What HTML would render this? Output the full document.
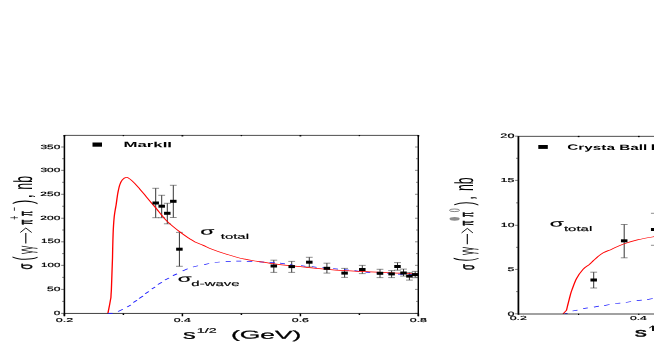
<!DOCTYPE html>
<html><head><meta charset="utf-8"><title>plot</title>
<style>
html,body{margin:0;padding:0;background:#fff;}
body{width:654px;height:354px;overflow:hidden;font-family:"Liberation Sans", sans-serif;}
svg{display:block;font-family:"Liberation Sans", sans-serif;}
text{text-rendering:geometricPrecision;}
</style></head><body>
<svg width="654" height="354" viewBox="0 0 654 354">
<defs><filter id="tb" x="0" y="0" width="654" height="354" filterUnits="userSpaceOnUse"><feGaussianBlur stdDeviation="0.3"/></filter></defs>
<rect x="0" y="0" width="654" height="354" fill="#fff"/>
<line x1="155.70" y1="188.30" x2="155.70" y2="217.70" stroke="#2a2a2a" stroke-width="0.95" stroke-linecap="butt"/>
<line x1="152.30" y1="188.30" x2="159.10" y2="188.30" stroke="#333" stroke-width="0.55" stroke-linecap="butt"/>
<line x1="152.30" y1="217.70" x2="159.10" y2="217.70" stroke="#333" stroke-width="0.55" stroke-linecap="butt"/>
<line x1="161.70" y1="195.30" x2="161.70" y2="217.70" stroke="#2a2a2a" stroke-width="0.95" stroke-linecap="butt"/>
<line x1="158.30" y1="195.30" x2="165.10" y2="195.30" stroke="#333" stroke-width="0.55" stroke-linecap="butt"/>
<line x1="158.30" y1="217.70" x2="165.10" y2="217.70" stroke="#333" stroke-width="0.55" stroke-linecap="butt"/>
<line x1="167.30" y1="203.30" x2="167.30" y2="223.80" stroke="#2a2a2a" stroke-width="0.95" stroke-linecap="butt"/>
<line x1="163.90" y1="203.30" x2="170.70" y2="203.30" stroke="#333" stroke-width="0.55" stroke-linecap="butt"/>
<line x1="163.90" y1="223.80" x2="170.70" y2="223.80" stroke="#333" stroke-width="0.55" stroke-linecap="butt"/>
<line x1="173.30" y1="185.30" x2="173.30" y2="217.50" stroke="#2a2a2a" stroke-width="0.95" stroke-linecap="butt"/>
<line x1="169.90" y1="185.30" x2="176.70" y2="185.30" stroke="#333" stroke-width="0.55" stroke-linecap="butt"/>
<line x1="169.90" y1="217.50" x2="176.70" y2="217.50" stroke="#333" stroke-width="0.55" stroke-linecap="butt"/>
<line x1="179.40" y1="232.40" x2="179.40" y2="266.30" stroke="#2a2a2a" stroke-width="0.95" stroke-linecap="butt"/>
<line x1="176.00" y1="232.40" x2="182.80" y2="232.40" stroke="#333" stroke-width="0.55" stroke-linecap="butt"/>
<line x1="176.00" y1="266.30" x2="182.80" y2="266.30" stroke="#333" stroke-width="0.55" stroke-linecap="butt"/>
<line x1="273.80" y1="260.20" x2="273.80" y2="272.40" stroke="#2a2a2a" stroke-width="0.95" stroke-linecap="butt"/>
<line x1="270.40" y1="260.20" x2="277.20" y2="260.20" stroke="#333" stroke-width="0.55" stroke-linecap="butt"/>
<line x1="270.40" y1="272.40" x2="277.20" y2="272.40" stroke="#333" stroke-width="0.55" stroke-linecap="butt"/>
<line x1="291.70" y1="261.40" x2="291.70" y2="272.40" stroke="#2a2a2a" stroke-width="0.95" stroke-linecap="butt"/>
<line x1="288.30" y1="261.40" x2="295.10" y2="261.40" stroke="#333" stroke-width="0.55" stroke-linecap="butt"/>
<line x1="288.30" y1="272.40" x2="295.10" y2="272.40" stroke="#333" stroke-width="0.55" stroke-linecap="butt"/>
<line x1="309.30" y1="257.30" x2="309.30" y2="267.00" stroke="#2a2a2a" stroke-width="0.95" stroke-linecap="butt"/>
<line x1="305.90" y1="257.30" x2="312.70" y2="257.30" stroke="#333" stroke-width="0.55" stroke-linecap="butt"/>
<line x1="305.90" y1="267.00" x2="312.70" y2="267.00" stroke="#333" stroke-width="0.55" stroke-linecap="butt"/>
<line x1="326.90" y1="263.20" x2="326.90" y2="273.10" stroke="#2a2a2a" stroke-width="0.95" stroke-linecap="butt"/>
<line x1="323.50" y1="263.20" x2="330.30" y2="263.20" stroke="#333" stroke-width="0.55" stroke-linecap="butt"/>
<line x1="323.50" y1="273.10" x2="330.30" y2="273.10" stroke="#333" stroke-width="0.55" stroke-linecap="butt"/>
<line x1="344.60" y1="268.40" x2="344.60" y2="277.40" stroke="#2a2a2a" stroke-width="0.95" stroke-linecap="butt"/>
<line x1="341.20" y1="268.40" x2="348.00" y2="268.40" stroke="#333" stroke-width="0.55" stroke-linecap="butt"/>
<line x1="341.20" y1="277.40" x2="348.00" y2="277.40" stroke="#333" stroke-width="0.55" stroke-linecap="butt"/>
<line x1="362.30" y1="265.40" x2="362.30" y2="273.60" stroke="#2a2a2a" stroke-width="0.95" stroke-linecap="butt"/>
<line x1="358.90" y1="265.40" x2="365.70" y2="265.40" stroke="#333" stroke-width="0.55" stroke-linecap="butt"/>
<line x1="358.90" y1="273.60" x2="365.70" y2="273.60" stroke="#333" stroke-width="0.55" stroke-linecap="butt"/>
<line x1="380.00" y1="269.30" x2="380.00" y2="277.60" stroke="#2a2a2a" stroke-width="0.95" stroke-linecap="butt"/>
<line x1="376.60" y1="269.30" x2="383.40" y2="269.30" stroke="#333" stroke-width="0.55" stroke-linecap="butt"/>
<line x1="376.60" y1="277.60" x2="383.40" y2="277.60" stroke="#333" stroke-width="0.55" stroke-linecap="butt"/>
<line x1="391.60" y1="270.60" x2="391.60" y2="277.60" stroke="#2a2a2a" stroke-width="0.95" stroke-linecap="butt"/>
<line x1="388.20" y1="270.60" x2="395.00" y2="270.60" stroke="#333" stroke-width="0.55" stroke-linecap="butt"/>
<line x1="388.20" y1="277.60" x2="395.00" y2="277.60" stroke="#333" stroke-width="0.55" stroke-linecap="butt"/>
<line x1="397.50" y1="262.60" x2="397.50" y2="270.20" stroke="#2a2a2a" stroke-width="0.95" stroke-linecap="butt"/>
<line x1="394.10" y1="262.60" x2="400.90" y2="262.60" stroke="#333" stroke-width="0.55" stroke-linecap="butt"/>
<line x1="394.10" y1="270.20" x2="400.90" y2="270.20" stroke="#333" stroke-width="0.55" stroke-linecap="butt"/>
<line x1="403.50" y1="269.10" x2="403.50" y2="276.10" stroke="#2a2a2a" stroke-width="0.95" stroke-linecap="butt"/>
<line x1="400.10" y1="269.10" x2="406.90" y2="269.10" stroke="#333" stroke-width="0.55" stroke-linecap="butt"/>
<line x1="400.10" y1="276.10" x2="406.90" y2="276.10" stroke="#333" stroke-width="0.55" stroke-linecap="butt"/>
<line x1="409.40" y1="272.60" x2="409.40" y2="280.10" stroke="#2a2a2a" stroke-width="0.95" stroke-linecap="butt"/>
<line x1="406.00" y1="272.60" x2="412.80" y2="272.60" stroke="#333" stroke-width="0.55" stroke-linecap="butt"/>
<line x1="406.00" y1="280.10" x2="412.80" y2="280.10" stroke="#333" stroke-width="0.55" stroke-linecap="butt"/>
<line x1="415.20" y1="271.40" x2="415.20" y2="277.70" stroke="#2a2a2a" stroke-width="0.95" stroke-linecap="butt"/>
<line x1="411.80" y1="271.40" x2="418.60" y2="271.40" stroke="#333" stroke-width="0.55" stroke-linecap="butt"/>
<line x1="411.80" y1="277.70" x2="418.60" y2="277.70" stroke="#333" stroke-width="0.55" stroke-linecap="butt"/>
<path transform="scale(1.85,1)" d="M63.84,311.50 L66.38,309.30 M68.76,306.90 L70.70,305.00 M72.05,302.50 L74.05,300.20 M75.19,298.50 L77.30,296.10 M78.49,293.70 L80.43,291.40 M82.05,288.90 L83.84,287.00 M85.35,284.50 L87.51,282.30 M89.19,280.10 L91.35,278.10 M93.46,275.60 L95.68,273.90 M98.70,271.10 L101.41,268.70 M104.32,267.00 L107.03,265.70 M110.38,264.60 L113.08,263.50 M116.05,262.50 L118.81,262.00 M122.00,261.60 L124.76,261.40 M127.73,261.10 L130.43,261.10 M133.41,261.30 L136.38,261.40 M140.16,261.80 L142.86,262.20 M145.68,262.40 L148.65,262.90 M151.35,263.20 L154.05,263.80 M156.76,264.70 L159.24,265.50 M162.70,265.50 L165.19,266.30 M168.65,266.50 L171.14,267.40 M174.32,267.60 L177.03,268.20 M180.00,268.50 L182.70,269.20 M185.95,269.71 L188.54,270.14 M191.62,270.65 L194.22,271.26 M197.57,272.07 L200.16,272.53 M203.51,272.89 L206.11,273.16 M209.19,273.49 L211.78,273.75 M215.14,274.09 L217.73,274.29 M220.81,274.48 L223.41,274.64" fill="none" stroke="#1c1cff" stroke-width="0.72"/>
<path transform="scale(1.85,1)" d="M58.32,313.40 C58.46,312.13 58.89,308.15 59.14,305.80 C59.38,303.45 59.66,300.57 59.78,299.30 C59.91,298.03 59.86,298.58 59.89,298.20 C59.92,297.82 59.95,297.70 59.97,297.00 C60.00,296.30 60.01,295.33 60.05,294.00 C60.09,292.67 60.14,292.67 60.22,289.00 C60.30,285.33 60.44,277.17 60.54,272.00 C60.64,266.83 60.75,262.00 60.81,258.00 C60.87,254.00 60.86,252.00 60.92,248.00 C60.97,244.00 61.06,237.67 61.14,234.00 C61.21,230.33 61.25,228.83 61.35,226.00 C61.45,223.17 61.58,219.67 61.73,217.00 C61.88,214.33 62.10,212.00 62.27,210.00 C62.44,208.00 62.59,206.92 62.76,205.00 C62.92,203.08 63.08,200.55 63.24,198.50 C63.41,196.45 63.48,194.98 63.73,192.70 C63.98,190.42 64.36,186.93 64.76,184.80 C65.15,182.67 65.52,181.13 66.11,179.90 C66.69,178.67 67.60,177.57 68.27,177.40 C68.94,177.23 69.35,177.90 70.11,178.90 C70.86,179.90 71.92,181.75 72.81,183.40 C73.70,185.05 74.57,186.92 75.46,188.80 C76.35,190.68 77.27,192.72 78.16,194.70 C79.05,196.68 80.10,199.13 80.81,200.70 C81.52,202.27 81.78,202.72 82.43,204.10 C83.08,205.48 83.42,206.22 84.70,209.00 C85.98,211.78 88.01,216.97 90.11,220.80 C92.21,224.63 95.20,228.98 97.30,232.00 C99.40,235.02 101.35,237.25 102.70,238.90 C104.05,240.55 104.21,240.82 105.41,241.90 C106.60,242.98 108.36,244.18 109.89,245.40 C111.42,246.62 112.64,247.80 114.59,249.20 C116.55,250.60 119.40,252.45 121.62,253.80 C123.85,255.15 126.14,256.40 127.95,257.30 C129.75,258.20 130.78,258.58 132.43,259.20 C134.08,259.82 136.04,260.47 137.84,261.00 C139.64,261.53 141.66,261.97 143.24,262.40 C144.83,262.83 145.14,263.05 147.35,263.60 C149.56,264.15 152.77,264.95 156.49,265.70 C160.21,266.45 165.13,267.33 169.68,268.10 C174.23,268.87 178.13,269.63 183.78,270.30 C189.44,270.97 198.22,271.62 203.62,272.10 C209.03,272.58 212.47,272.88 216.22,273.20 C219.96,273.52 224.46,273.87 226.11,274.00" fill="none" stroke="#ff0000" stroke-width="0.72" stroke-linejoin="round"/>
<rect x="152.45" y="201.50" width="6.5" height="3.0" fill="#000"/>
<rect x="158.45" y="204.70" width="6.5" height="3.0" fill="#000"/>
<rect x="164.05" y="211.80" width="6.5" height="3.0" fill="#000"/>
<rect x="170.05" y="199.80" width="6.5" height="3.0" fill="#000"/>
<rect x="176.15" y="247.70" width="6.5" height="3.0" fill="#000"/>
<rect x="270.55" y="264.50" width="6.5" height="3.0" fill="#000"/>
<rect x="288.45" y="265.10" width="6.5" height="3.0" fill="#000"/>
<rect x="306.05" y="260.70" width="6.5" height="3.0" fill="#000"/>
<rect x="323.65" y="266.80" width="6.5" height="3.0" fill="#000"/>
<rect x="341.35" y="271.60" width="6.5" height="3.0" fill="#000"/>
<rect x="359.05" y="268.00" width="6.5" height="3.0" fill="#000"/>
<rect x="376.75" y="271.80" width="6.5" height="3.0" fill="#000"/>
<rect x="388.35" y="272.40" width="6.5" height="3.0" fill="#000"/>
<rect x="394.25" y="265.00" width="6.5" height="3.0" fill="#000"/>
<rect x="400.25" y="271.50" width="6.5" height="3.0" fill="#000"/>
<rect x="406.15" y="274.60" width="6.5" height="3.0" fill="#000"/>
<rect x="411.95" y="273.10" width="6.5" height="3.0" fill="#000"/>
<line x1="64.40" y1="135.00" x2="64.40" y2="315.70" stroke="#000" stroke-width="1.55" stroke-linecap="butt"/>
<line x1="418.30" y1="135.00" x2="418.30" y2="316.10" stroke="#000" stroke-width="1.45" stroke-linecap="butt"/>
<line x1="64.40" y1="135.40" x2="418.30" y2="135.40" stroke="#222" stroke-width="0.8" stroke-linecap="butt"/>
<line x1="64.40" y1="313.45" x2="418.30" y2="313.45" stroke="#111" stroke-width="0.8" stroke-linecap="butt"/>
<line x1="108.20" y1="313.45" x2="112.70" y2="313.45" stroke="#1c1cff" stroke-width="0.9" stroke-linecap="butt"/>
<line x1="61.20" y1="313.40" x2="64.40" y2="313.40" stroke="#222" stroke-width="0.6" stroke-linecap="butt"/>
<line x1="415.00" y1="313.40" x2="418.30" y2="313.40" stroke="#333" stroke-width="0.55" stroke-linecap="butt"/>
<line x1="62.20" y1="301.40" x2="64.40" y2="301.40" stroke="#222" stroke-width="0.6" stroke-linecap="butt"/>
<line x1="416.00" y1="301.40" x2="418.30" y2="301.40" stroke="#333" stroke-width="0.55" stroke-linecap="butt"/>
<line x1="61.20" y1="289.40" x2="64.40" y2="289.40" stroke="#222" stroke-width="0.6" stroke-linecap="butt"/>
<line x1="415.00" y1="289.40" x2="418.30" y2="289.40" stroke="#333" stroke-width="0.55" stroke-linecap="butt"/>
<line x1="62.20" y1="277.38" x2="64.40" y2="277.38" stroke="#222" stroke-width="0.6" stroke-linecap="butt"/>
<line x1="416.00" y1="277.38" x2="418.30" y2="277.38" stroke="#333" stroke-width="0.55" stroke-linecap="butt"/>
<line x1="61.20" y1="265.35" x2="64.40" y2="265.35" stroke="#222" stroke-width="0.6" stroke-linecap="butt"/>
<line x1="415.00" y1="265.35" x2="418.30" y2="265.35" stroke="#333" stroke-width="0.55" stroke-linecap="butt"/>
<line x1="62.20" y1="253.58" x2="64.40" y2="253.58" stroke="#222" stroke-width="0.6" stroke-linecap="butt"/>
<line x1="416.00" y1="253.58" x2="418.30" y2="253.58" stroke="#333" stroke-width="0.55" stroke-linecap="butt"/>
<line x1="61.20" y1="241.80" x2="64.40" y2="241.80" stroke="#222" stroke-width="0.6" stroke-linecap="butt"/>
<line x1="415.00" y1="241.80" x2="418.30" y2="241.80" stroke="#333" stroke-width="0.55" stroke-linecap="butt"/>
<line x1="62.20" y1="230.03" x2="64.40" y2="230.03" stroke="#222" stroke-width="0.6" stroke-linecap="butt"/>
<line x1="416.00" y1="230.03" x2="418.30" y2="230.03" stroke="#333" stroke-width="0.55" stroke-linecap="butt"/>
<line x1="61.20" y1="218.25" x2="64.40" y2="218.25" stroke="#222" stroke-width="0.6" stroke-linecap="butt"/>
<line x1="415.00" y1="218.25" x2="418.30" y2="218.25" stroke="#333" stroke-width="0.55" stroke-linecap="butt"/>
<line x1="62.20" y1="206.28" x2="64.40" y2="206.28" stroke="#222" stroke-width="0.6" stroke-linecap="butt"/>
<line x1="416.00" y1="206.28" x2="418.30" y2="206.28" stroke="#333" stroke-width="0.55" stroke-linecap="butt"/>
<line x1="61.20" y1="194.30" x2="64.40" y2="194.30" stroke="#222" stroke-width="0.6" stroke-linecap="butt"/>
<line x1="415.00" y1="194.30" x2="418.30" y2="194.30" stroke="#333" stroke-width="0.55" stroke-linecap="butt"/>
<line x1="62.20" y1="182.32" x2="64.40" y2="182.32" stroke="#222" stroke-width="0.6" stroke-linecap="butt"/>
<line x1="416.00" y1="182.32" x2="418.30" y2="182.32" stroke="#333" stroke-width="0.55" stroke-linecap="butt"/>
<line x1="61.20" y1="170.35" x2="64.40" y2="170.35" stroke="#222" stroke-width="0.6" stroke-linecap="butt"/>
<line x1="415.00" y1="170.35" x2="418.30" y2="170.35" stroke="#333" stroke-width="0.55" stroke-linecap="butt"/>
<line x1="62.20" y1="158.68" x2="64.40" y2="158.68" stroke="#222" stroke-width="0.6" stroke-linecap="butt"/>
<line x1="416.00" y1="158.68" x2="418.30" y2="158.68" stroke="#333" stroke-width="0.55" stroke-linecap="butt"/>
<line x1="61.20" y1="147.00" x2="64.40" y2="147.00" stroke="#222" stroke-width="0.6" stroke-linecap="butt"/>
<line x1="415.00" y1="147.00" x2="418.30" y2="147.00" stroke="#333" stroke-width="0.55" stroke-linecap="butt"/>
<line x1="64.40" y1="135.05" x2="64.40" y2="136.45" stroke="#000" stroke-width="1.8" stroke-linecap="butt"/>
<line x1="64.40" y1="313.45" x2="64.40" y2="316.30" stroke="#000" stroke-width="1.5" stroke-linecap="butt"/>
<line x1="123.40" y1="135.05" x2="123.40" y2="136.15" stroke="#000" stroke-width="1.4" stroke-linecap="butt"/>
<line x1="123.40" y1="313.45" x2="123.40" y2="315.00" stroke="#000" stroke-width="1.5" stroke-linecap="butt"/>
<line x1="182.40" y1="135.05" x2="182.40" y2="136.45" stroke="#000" stroke-width="1.8" stroke-linecap="butt"/>
<line x1="182.40" y1="313.45" x2="182.40" y2="316.30" stroke="#000" stroke-width="1.5" stroke-linecap="butt"/>
<line x1="241.40" y1="135.05" x2="241.40" y2="136.15" stroke="#000" stroke-width="1.4" stroke-linecap="butt"/>
<line x1="241.40" y1="313.45" x2="241.40" y2="315.00" stroke="#000" stroke-width="1.5" stroke-linecap="butt"/>
<line x1="300.40" y1="135.05" x2="300.40" y2="136.45" stroke="#000" stroke-width="1.8" stroke-linecap="butt"/>
<line x1="300.40" y1="313.45" x2="300.40" y2="316.30" stroke="#000" stroke-width="1.5" stroke-linecap="butt"/>
<line x1="359.40" y1="135.05" x2="359.40" y2="136.15" stroke="#000" stroke-width="1.4" stroke-linecap="butt"/>
<line x1="359.40" y1="313.45" x2="359.40" y2="315.00" stroke="#000" stroke-width="1.5" stroke-linecap="butt"/>
<line x1="418.40" y1="135.05" x2="418.40" y2="136.45" stroke="#000" stroke-width="1.8" stroke-linecap="butt"/>
<line x1="418.40" y1="313.45" x2="418.40" y2="316.30" stroke="#000" stroke-width="1.5" stroke-linecap="butt"/>
<rect x="92.5" y="142.5" width="9.5" height="4.2" fill="#000"/>
<line x1="25.80" y1="233.10" x2="25.80" y2="243.40" stroke="#000" stroke-width="1.1" stroke-linecap="butt"/>
<path d="M20.30,232.50 L25.80,228.00 L31.70,232.50" fill="none" stroke="#000" stroke-width="0.9" stroke-linejoin="miter"/>
<line x1="10.40" y1="217.70" x2="17.90" y2="217.70" stroke="#000" stroke-width="0.6" stroke-linecap="butt"/>
<line x1="14.40" y1="216.00" x2="14.40" y2="219.50" stroke="#000" stroke-width="0.7" stroke-linecap="butt"/>
<line x1="14.40" y1="207.40" x2="14.40" y2="210.80" stroke="#000" stroke-width="0.8" stroke-linecap="butt"/>
<line x1="593.70" y1="272.20" x2="593.70" y2="288.00" stroke="#2a2a2a" stroke-width="0.95" stroke-linecap="butt"/>
<line x1="590.30" y1="272.20" x2="597.10" y2="272.20" stroke="#333" stroke-width="0.55" stroke-linecap="butt"/>
<line x1="590.30" y1="288.00" x2="597.10" y2="288.00" stroke="#333" stroke-width="0.55" stroke-linecap="butt"/>
<line x1="624.20" y1="224.50" x2="624.20" y2="257.80" stroke="#2a2a2a" stroke-width="0.95" stroke-linecap="butt"/>
<line x1="620.80" y1="224.50" x2="627.60" y2="224.50" stroke="#333" stroke-width="0.55" stroke-linecap="butt"/>
<line x1="620.80" y1="257.80" x2="627.60" y2="257.80" stroke="#333" stroke-width="0.55" stroke-linecap="butt"/>
<line x1="654.75" y1="213.30" x2="654.75" y2="245.30" stroke="#2a2a2a" stroke-width="0.95" stroke-linecap="butt"/>
<line x1="650.95" y1="213.30" x2="658.55" y2="213.30" stroke="#333" stroke-width="0.55" stroke-linecap="butt"/>
<line x1="650.95" y1="245.30" x2="658.55" y2="245.30" stroke="#333" stroke-width="0.55" stroke-linecap="butt"/>
<path transform="scale(1.85,1)" d="M305.14,313.60 L306.81,313.40 M309.46,311.00 L312.16,310.10 M315.24,308.70 L317.73,307.90 M321.03,307.20 L323.73,306.10 M326.59,305.60 L329.51,304.50 M332.49,303.50 L335.30,303.20 M338.27,302.50 L341.14,301.50 M344.16,300.60 L346.92,300.10 M349.84,299.60 L352.86,298.50" fill="none" stroke="#1c1cff" stroke-width="0.72"/>
<path transform="scale(1.85,1)" d="M304.32,313.80 C304.59,313.32 305.59,311.47 305.89,310.90 C306.20,310.33 306.09,310.68 306.16,310.40 C306.24,310.12 306.25,309.93 306.35,309.20 C306.45,308.47 306.59,307.25 306.76,306.00 C306.92,304.75 307.07,303.70 307.35,301.70 C307.63,299.70 308.14,295.95 308.43,294.00 C308.73,292.05 308.60,292.57 309.14,290.00 C309.67,287.43 310.62,282.05 311.62,278.60 C312.62,275.15 313.99,271.63 315.14,269.30 C316.28,266.97 317.56,266.02 318.49,264.60 C319.41,263.18 319.91,262.15 320.70,260.80 C321.50,259.45 322.34,257.83 323.24,256.50 C324.14,255.17 324.87,254.02 326.11,252.80 C327.34,251.58 328.77,250.70 330.65,249.20 C332.53,247.70 335.01,245.38 337.41,243.80 C339.80,242.22 342.16,240.95 345.03,239.70 C347.89,238.45 353.00,236.87 354.59,236.30" fill="none" stroke="#ff0000" stroke-width="0.72" stroke-linejoin="round"/>
<rect x="590.45" y="278.50" width="6.5" height="3.0" fill="#000"/>
<rect x="620.95" y="239.30" width="6.5" height="3.0" fill="#000"/>
<rect x="650.95" y="228.00" width="7.6" height="3.0" fill="#000"/>
<line x1="518.40" y1="136.00" x2="518.40" y2="314.80" stroke="#000" stroke-width="1.75" stroke-linecap="butt"/>
<line x1="518.40" y1="136.35" x2="654.00" y2="136.35" stroke="#222" stroke-width="0.8" stroke-linecap="butt"/>
<line x1="518.40" y1="314.00" x2="654.00" y2="314.00" stroke="#000" stroke-width="0.74" stroke-linecap="butt"/>
<line x1="515.10" y1="313.80" x2="518.40" y2="313.80" stroke="#222" stroke-width="0.6" stroke-linecap="butt"/>
<line x1="516.10" y1="291.60" x2="518.40" y2="291.60" stroke="#222" stroke-width="0.6" stroke-linecap="butt"/>
<line x1="515.10" y1="269.40" x2="518.40" y2="269.40" stroke="#222" stroke-width="0.6" stroke-linecap="butt"/>
<line x1="516.10" y1="247.35" x2="518.40" y2="247.35" stroke="#222" stroke-width="0.6" stroke-linecap="butt"/>
<line x1="515.10" y1="225.30" x2="518.40" y2="225.30" stroke="#222" stroke-width="0.6" stroke-linecap="butt"/>
<line x1="516.10" y1="202.85" x2="518.40" y2="202.85" stroke="#222" stroke-width="0.6" stroke-linecap="butt"/>
<line x1="515.10" y1="180.40" x2="518.40" y2="180.40" stroke="#222" stroke-width="0.6" stroke-linecap="butt"/>
<line x1="516.10" y1="158.30" x2="518.40" y2="158.30" stroke="#222" stroke-width="0.6" stroke-linecap="butt"/>
<line x1="515.10" y1="136.20" x2="518.40" y2="136.20" stroke="#222" stroke-width="0.6" stroke-linecap="butt"/>
<line x1="578.60" y1="135.90" x2="578.60" y2="137.15" stroke="#000" stroke-width="1.7" stroke-linecap="butt"/>
<line x1="578.60" y1="313.80" x2="578.60" y2="315.10" stroke="#000" stroke-width="1.1" stroke-linecap="butt"/>
<line x1="638.80" y1="135.90" x2="638.80" y2="137.15" stroke="#000" stroke-width="1.7" stroke-linecap="butt"/>
<line x1="638.80" y1="313.80" x2="638.80" y2="315.10" stroke="#000" stroke-width="1.1" stroke-linecap="butt"/>
<rect x="538.3" y="145" width="9.5" height="3.9" fill="#000"/>
<path d="M649.30,327.90 L652.20,326.30 L652.90,326.00" fill="none" stroke="#000" stroke-width="0.9" stroke-linejoin="miter"/>
<line x1="653.00" y1="325.80" x2="653.00" y2="330.90" stroke="#000" stroke-width="1.9" stroke-linecap="butt"/>
<line x1="467.30" y1="233.90" x2="467.30" y2="244.30" stroke="#000" stroke-width="1.1" stroke-linecap="butt"/>
<path d="M461.60,232.90 L467.30,228.40 L472.90,232.90" fill="none" stroke="#000" stroke-width="0.9" stroke-linejoin="miter"/>
<ellipse cx="454.5" cy="210.3" rx="5.0" ry="1.3" fill="none" stroke="#222" stroke-width="0.55"/>
<ellipse cx="454.6" cy="218.8" rx="5.1" ry="1.9" fill="#8c8c8c"/>
<g filter="url(#tb)">
<text transform="translate(57.100,312.900) rotate(0.2) translate(-3.294,2.098) scale(0.11765,0.06081)" font-size="100" fill="#000"  stroke="#000" stroke-width="3">0</text>
<text transform="translate(53.650,288.900) rotate(0.2) translate(-6.753,2.098) scale(0.12113,0.06081)" font-size="100" fill="#000"  stroke="#000" stroke-width="3">50</text>
<text transform="translate(50.950,264.850) rotate(0.2) translate(-9.843,2.098) scale(0.11546,0.06081)" font-size="100" fill="#000"  stroke="#000" stroke-width="3">100</text>
<text transform="translate(50.950,241.300) rotate(0.2) translate(-9.843,2.098) scale(0.11546,0.06081)" font-size="100" fill="#000"  stroke="#000" stroke-width="3">150</text>
<text transform="translate(50.450,217.750) rotate(0.2) translate(-10.070,2.098) scale(0.11988,0.06081)" font-size="100" fill="#000"  stroke="#000" stroke-width="3">200</text>
<text transform="translate(50.450,193.800) rotate(0.2) translate(-10.070,2.098) scale(0.11988,0.06081)" font-size="100" fill="#000"  stroke="#000" stroke-width="3">250</text>
<text transform="translate(50.450,169.850) rotate(0.2) translate(-9.948,2.098) scale(0.11914,0.06081)" font-size="100" fill="#000"  stroke="#000" stroke-width="3">300</text>
<text transform="translate(50.450,146.500) rotate(0.2) translate(-9.948,2.098) scale(0.11914,0.06081)" font-size="100" fill="#000"  stroke="#000" stroke-width="3">350</text>
<text transform="translate(64.400,320.100) rotate(0.2) translate(-8.612,1.958) scale(0.12481,0.05676)" font-size="100" fill="#000"  stroke="#000" stroke-width="3">0.2</text>
<text transform="translate(182.400,320.100) rotate(0.2) translate(-8.607,1.958) scale(0.12296,0.05676)" font-size="100" fill="#000"  stroke="#000" stroke-width="3">0.4</text>
<text transform="translate(300.400,320.100) rotate(0.2) translate(-8.610,1.958) scale(0.12388,0.05676)" font-size="100" fill="#000"  stroke="#000" stroke-width="3">0.6</text>
<text transform="translate(418.400,320.100) rotate(0.2) translate(-8.610,1.958) scale(0.12388,0.05676)" font-size="100" fill="#000"  stroke="#000" stroke-width="3">0.8</text>
<text transform="translate(147.700,144.450) rotate(0.2) translate(-24.190,2.675) scale(0.16770,0.07483)" font-size="100" font-weight="bold" fill="#000" >MarkII</text>
<text transform="translate(207.750,231.900) rotate(0.2) translate(-7.395,2.623) scale(0.22931,0.10090)" font-size="100" fill="#000"  stroke="#000" stroke-width="1.5">σ</text>
<text transform="translate(234.500,236.300) rotate(0.2) translate(-13.775,2.557) scale(0.14973,0.07152)" font-size="100" fill="#000"  stroke="#000" stroke-width="2">total</text>
<text transform="translate(185.050,279.250) rotate(0.2) translate(-7.284,2.577) scale(0.22586,0.09910)" font-size="100" fill="#000"  stroke="#000" stroke-width="1.5">σ</text>
<text transform="translate(215.450,283.400) rotate(0.2) translate(-24.099,2.652) scale(0.14968,0.07417)" font-size="100" fill="#000"  stroke="#000" stroke-width="2">d-wave</text>
<text transform="translate(189.300,335.550) rotate(0.2) translate(-6.310,3.299) scale(0.25495,0.12566)" font-size="100" fill="#000"  stroke="#000" stroke-width="2">s</text>
<text transform="translate(206.850,330.500) rotate(0.2) translate(-10.107,2.337) scale(0.14286,0.06536)" font-size="100" fill="#000"  stroke="#000" stroke-width="3">1/2</text>
<text transform="translate(266.150,335.700) rotate(0.2) translate(-35.170,2.966) scale(0.26394,0.11518)" font-size="100" fill="#000"  stroke="#000" stroke-width="2">(GeV)</text>
<text transform="translate(26.900,266.400) rotate(0.2) translate(5.109,3.035) rotate(-90) scale(0.09412,0.19649)" font-size="100" fill="#000"  stroke="#000" stroke-width="3">σ</text>
<text transform="translate(25.500,258.250) rotate(0.2) translate(6.940,2.252) rotate(-90) scale(0.11698,0.26952)" font-size="100" fill="#000" >(</text>
<text transform="translate(29.200,249.900) rotate(0.2) translate(3.416,4.141) rotate(-90) scale(0.08283,0.21351)" font-size="100" fill="#000" >γγ</text>
<text transform="translate(26.750,213.550) rotate(0.2) translate(4.886,2.390) rotate(-90) scale(0.06977,0.18793)" font-size="100" fill="#000"  stroke="#000" stroke-width="4">π</text>
<text transform="translate(26.750,222.300) rotate(0.2) translate(4.886,2.549) rotate(-90) scale(0.07442,0.18793)" font-size="100" fill="#000"  stroke="#000" stroke-width="4">π</text>
<text transform="translate(25.350,202.300) rotate(0.2) translate(6.857,1.868) rotate(-90) scale(0.13585,0.26631)" font-size="100" fill="#000" >)</text>
<text transform="translate(32.200,196.300) rotate(0.2) translate(-0.319,2.240) rotate(-90) scale(0.16000,0.25532)" font-size="100" fill="#000" >,</text>
<text transform="translate(22.650,182.600) rotate(0.2) translate(9.290,7.002) rotate(-90) scale(0.12338,0.25986)" font-size="100" fill="#000" >nb</text>
<text transform="translate(507.500,135.400) rotate(0.2) translate(-7.145,2.238) scale(0.12701,0.06486)" font-size="100" fill="#000"  stroke="#000" stroke-width="3">20</text>
<text transform="translate(507.750,180.150) rotate(0.2) translate(-7.205,1.910) scale(0.12585,0.05616)" font-size="100" fill="#000"  stroke="#000" stroke-width="3">15</text>
<text transform="translate(507.900,224.650) rotate(0.2) translate(-7.034,2.098) scale(0.12233,0.06081)" font-size="100" fill="#000"  stroke="#000" stroke-width="3">10</text>
<text transform="translate(511.050,269.100) rotate(0.2) translate(-3.462,1.863) scale(0.12475,0.05479)" font-size="100" fill="#000"  stroke="#000" stroke-width="3">5</text>
<text transform="translate(511.100,313.400) rotate(0.2) translate(-3.514,2.145) scale(0.12549,0.06216)" font-size="100" fill="#000"  stroke="#000" stroke-width="3">0</text>
<text transform="translate(518.250,318.050) rotate(0.2) translate(-8.560,2.005) scale(0.12406,0.05811)" font-size="100" fill="#000"  stroke="#000" stroke-width="3">0.2</text>
<text transform="translate(638.450,318.000) rotate(0.2) translate(-8.452,1.958) scale(0.12074,0.05676)" font-size="100" fill="#000"  stroke="#000" stroke-width="3">0.4</text>
<text transform="translate(607.050,147.950) rotate(0.2) translate(-39.762,2.010) scale(0.15308,0.07807)" font-size="100" font-weight="bold" fill="#000" >Crysta Ball</text>
<text transform="translate(653.500,147.200) rotate(0.2) translate(-3.224,2.900) scale(0.23448,0.08406)" font-size="100" font-weight="bold" fill="#000" >I</text>
<text transform="translate(557.100,223.950) rotate(0.2) translate(-7.340,2.577) scale(0.22759,0.09910)" font-size="100" fill="#000"  stroke="#000" stroke-width="1.5">σ</text>
<text transform="translate(577.700,228.600) rotate(0.2) translate(-13.775,2.462) scale(0.14973,0.06887)" font-size="100" fill="#000"  stroke="#000" stroke-width="2">total</text>
<text transform="translate(640.850,333.400) rotate(0.2) translate(-6.015,3.196) scale(0.24301,0.12174)" font-size="100" fill="#000"  stroke="#000" stroke-width="3">s</text>
<text transform="translate(468.500,267.000) rotate(0.2) translate(5.200,2.927) rotate(-90) scale(0.09076,0.20000)" font-size="100" fill="#000"  stroke="#000" stroke-width="3">σ</text>
<text transform="translate(466.600,259.350) rotate(0.2) translate(6.885,2.107) rotate(-90) scale(0.10943,0.26738)" font-size="100" fill="#000" >(</text>
<text transform="translate(470.700,251.000) rotate(0.2) translate(3.416,4.040) rotate(-90) scale(0.08081,0.21351)" font-size="100" fill="#000" >γγ</text>
<text transform="translate(468.250,214.550) rotate(0.2) translate(4.886,2.390) rotate(-90) scale(0.06977,0.18793)" font-size="100" fill="#000"  stroke="#000" stroke-width="4">π</text>
<text transform="translate(468.250,223.350) rotate(0.2) translate(4.886,2.496) rotate(-90) scale(0.07287,0.18793)" font-size="100" fill="#000"  stroke="#000" stroke-width="4">π</text>
<text transform="translate(466.500,203.900) rotate(0.2) translate(6.665,1.660) rotate(-90) scale(0.12075,0.25882)" font-size="100" fill="#000" >)</text>
<text transform="translate(473.850,197.950) rotate(0.2) translate(-0.314,2.100) rotate(-90) scale(0.15000,0.25106)" font-size="100" fill="#000" >,</text>
<text transform="translate(464.150,184.200) rotate(0.2) translate(9.290,6.889) rotate(-90) scale(0.12139,0.25986)" font-size="100" fill="#000" >nb</text>
</g>
</svg>
</body></html>
